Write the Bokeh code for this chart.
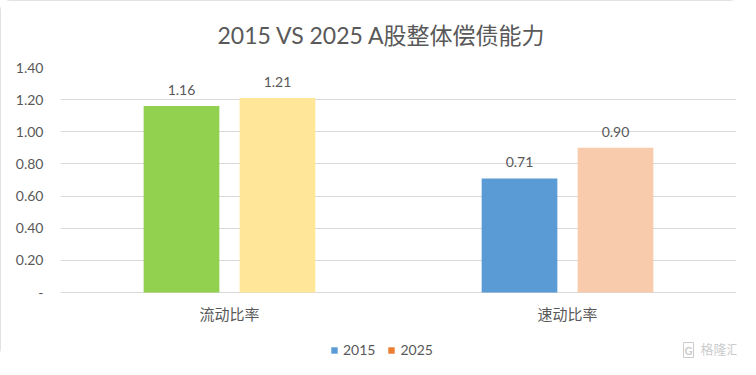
from bokeh.plotting import figure
from bokeh.models import (ColumnDataSource, FactorRange, FixedTicker, Legend, LegendItem,
                          Label, NumeralTickFormatter, Range1d)
from bokeh.transform import dodge
from bokeh.core.properties import value
from bokeh.embed import file_html
from bokeh.resources import INLINE

# ---- data ----
categories = ["流动比率", "速动比率"]
years = ["2015", "2025"]
values_2015 = [1.16, 0.71]
values_2025 = [1.21, 0.90]
colors_2015 = ["#92D050", "#5B9BD5"]
colors_2025 = ["#FFE699", "#F8CBAD"]
legend_colors = ["#5B9BD5", "#ED7D31"]
y_ticks = [0.0, 0.2, 0.4, 0.6, 0.8, 1.0, 1.2, 1.4]
title_text = "2015 VS 2025 A股整体偿债能力"

FONT = "Lato, 'Noto Sans CJK SC', sans-serif"
CJK = "'Noto Sans CJK SC', sans-serif"
TXT = "#595959"

src = ColumnDataSource(dict(
    cat=categories,
    zero=[0] * len(categories),
    v2015=values_2015, v2025=values_2025,
    c2015=colors_2015, c2025=colors_2025,
    l2015=["%.2f" % v for v in values_2015],
    l2025=["%.2f" % v for v in values_2025],
))

W, H = 740, 359
TOP = 67           # frame top (1.40 gridline) in px
ZERO = 292         # baseline (0) in px
ymax = y_ticks[-1]
px_per_unit = (ZERO - TOP) / ymax
ymin = -(H - ZERO) / px_per_unit   # frame extends below zero down to figure bottom

p = figure(x_range=FactorRange(*categories), y_range=Range1d(ymin, ymax),
           width=W, height=H, output_backend="svg", toolbar_location=None,
           min_border_left=60, min_border_right=4, min_border_top=TOP, min_border_bottom=0,
           styles={"outline": "1px solid #d9d9d9", "outline-offset": "-1px",
                   "border-radius": "10px"})

p.title.text = title_text
p.title.align = "left"
p.title.offset = 157
p.title.text_font = FONT
p.title.text_font_size = "23px"
p.title.text_font_style = "normal"
p.title.text_color = TXT
p.title.standoff = 37

off = 0.142
w = 0.224
p.vbar(x=dodge("cat", -off, range=p.x_range), top="v2015", width=w, bottom=0,
       source=src, fill_color="c2015", line_color=None)
p.vbar(x=dodge("cat", off, range=p.x_range), top="v2025", width=w, bottom=0,
       source=src, fill_color="c2025", line_color=None)

for col, lab, o in (("v2015", "l2015", -off), ("v2025", "l2025", off)):
    p.text(x=dodge("cat", o, range=p.x_range), y=col, text=lab, source=src,
           text_align="center", text_baseline="middle", y_offset=-16,
           text_font=value(FONT), text_font_size="14px", text_color=TXT)

# category labels under the baseline
p.text(x="cat", y="zero", text="cat", source=src, text_align="center",
       text_baseline="middle", y_offset=21, text_font=value(CJK),
       text_font_size="15px", text_color=TXT)

# legend-only renderers (zero-height, so only the legend swatch shows)
leg_items = []
for yr, c in zip(years, legend_colors):
    rr = p.vbar(x=[categories[0]], top=[0], bottom=[0], width=0.0001,
                fill_color=c, line_color=None)
    leg_items.append(LegendItem(label=yr, renderers=[rr]))
legend = Legend(items=leg_items, orientation="horizontal", location=(270, 1),
                glyph_width=8, glyph_height=8, label_standoff=5, spacing=12,
                label_text_font=FONT, label_text_font_size="14px", label_text_color=TXT,
                label_height=16, border_line_color=None, background_fill_alpha=0,
                padding=0, margin=0)
p.add_layout(legend)

# axes
p.yaxis.ticker = FixedTicker(ticks=y_ticks)
p.yaxis.formatter = NumeralTickFormatter(format="0.00")
p.yaxis.major_label_overrides = {0: "-"}
p.yaxis.axis_line_color = None
p.yaxis.major_tick_line_color = None
p.yaxis.minor_tick_line_color = None
p.yaxis.major_tick_out = 0
p.yaxis.minor_tick_out = 0
p.yaxis.major_label_standoff = 17
p.yaxis.major_label_text_font = FONT
p.yaxis.major_label_text_font_size = "14px"
p.yaxis.major_label_text_color = TXT
p.xaxis.visible = False

p.xgrid.grid_line_color = None
p.ygrid.grid_line_color = "#d9d9d9"
p.outline_line_color = None
p.background_fill_color = "white"
p.border_fill_color = "white"

# watermark
p.add_layout(Label(x=623, y=2, x_units="screen", y_units="screen", text="G",
                   text_font=FONT, text_font_size="11px", text_color="#cccccc",
                   text_font_style="bold", border_line_color="#cccccc", padding=1))
p.add_layout(Label(x=640, y=2, x_units="screen", y_units="screen", text="格隆汇",
                   text_font=CJK, text_font_size="13px", text_color="#cccccc"))

open("out.html", "w").write(file_html(p, INLINE))
